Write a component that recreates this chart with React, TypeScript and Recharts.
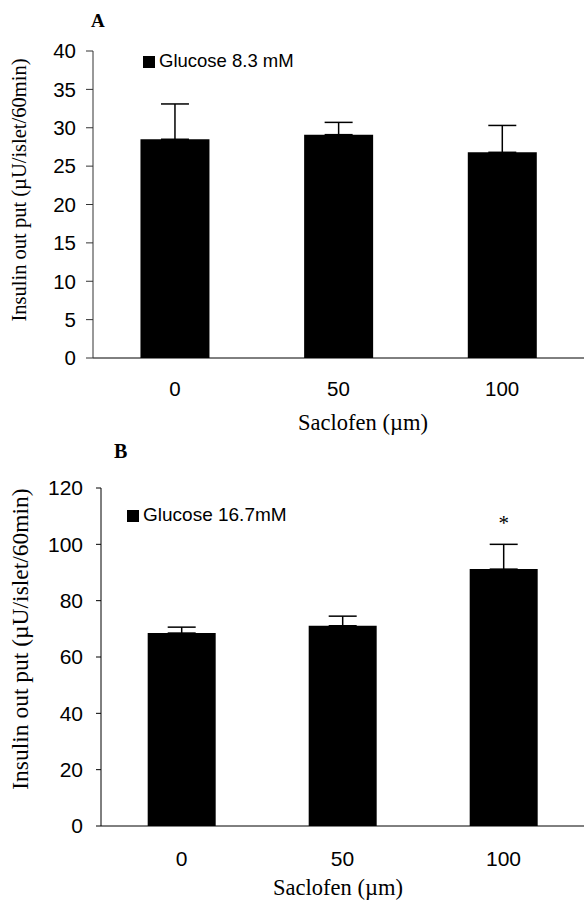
import { BarChart, Bar, XAxis, YAxis, ErrorBar, Legend, LabelList } from "recharts";

const doses = ["0", "50", "100"];

const meanA = [28.5, 29.1, 26.8];
const semA = [4.6, 1.6, 3.5];
const ticksA = [0, 5, 10, 15, 20, 25, 30, 35, 40];

const meanB = [68.5, 71.1, 91.2];
const semB = [2.1, 3.4, 8.8];
const sigB = ["", "", "*"];
const ticksB = [0, 20, 40, 60, 80, 100, 120];

const SANS = "'Liberation Sans', Arial, sans-serif";
const SERIF = "'Liberation Serif', 'Times New Roman', serif";

const dataA = doses.map((dose, i) => ({ dose, mean: meanA[i], err: [0, semA[i]] }));
const dataB = doses.map((dose, i) => ({ dose, mean: meanB[i], err: [0, semB[i]], sig: sigB[i] }));

// axis titles are placed by hand, recharts only hands us the viewBox
function YTitle({ cx, cy, size }: { cx: number; cy: number; size: number }) {
  return (
    <text
      x={cx}
      y={cy}
      transform={`rotate(-90 ${cx} ${cy})`}
      textAnchor="middle"
      fontFamily={SERIF}
      fontSize={size}
      fill="#000"
    >
      Insulin out put (µU/islet/60min)
    </text>
  );
}

function XTitle({ cx, baseY, size }: { cx: number; baseY: number; size: number }) {
  return (
    <text x={cx} y={baseY} textAnchor="middle" fontFamily={SERIF} fontSize={size} fill="#000">
      Saclofen (µm)
    </text>
  );
}

const panelLetter = (top: number, left: number, size: number): React.CSSProperties => ({
  position: "absolute",
  top,
  left,
  fontFamily: SERIF,
  fontWeight: "bold",
  fontSize: size,
  lineHeight: 1,
});

export default function App() {
  return (
    <div style={{ position: "absolute", top: 0, left: 0, width: 584, height: 901, background: "#fff" }}>
      <div style={panelLetter(11, 91, 19)}>A</div>
      <div style={{ position: "absolute", top: 0, left: 0 }}>
        <BarChart width={584} height={440} data={dataA} margin={{ top: 51, right: 0, bottom: 0, left: 0 }} barCategoryGap="29%">
          <XAxis
            dataKey="dose"
            height={82}
            tickSize={0}
            tickLine={false}
            tickMargin={23}
            axisLine={{ stroke: "#000" }}
            tick={{ fill: "#000", fontSize: 20.5, fontFamily: SANS }}
            label={<XTitle cx={363} baseY={430} size={22.5} />}
          />
          <YAxis
            type="number"
            domain={[0, 40]}
            ticks={ticksA}
            interval={0}
            width={93}
            tickSize={7}
            tickMargin={10}
            axisLine={{ stroke: "#333" }}
            tickLine={{ stroke: "#333" }}
            tick={{ fill: "#000", fontSize: 20.5, fontFamily: SANS }}
            label={<YTitle cx={26} cy={190} size={20.5} />}
          />
          <Legend
            layout="vertical"
            align="center"
            verticalAlign="middle"
            iconType="square"
            iconSize={12}
            wrapperStyle={{ top: 50, left: 143, width: "auto", fontFamily: SANS, fontSize: 18.5, color: "#000" }}
          />
          <Bar dataKey="mean" name="Glucose 8.3 mM" fill="#000" isAnimationActive={false}>
            <ErrorBar dataKey="err" direction="y" width={14} stroke="#000" strokeWidth={1.5} isAnimationActive={false} />
          </Bar>
        </BarChart>
      </div>

      <div style={panelLetter(441, 114, 20)}>B</div>
      <div style={{ position: "absolute", top: 440, left: 0 }}>
        <BarChart width={584} height={461} data={dataB} margin={{ top: 48, right: 0, bottom: 0, left: 0 }} barCategoryGap="29%">
          <XAxis
            dataKey="dose"
            height={75}
            tickSize={0}
            tickLine={false}
            tickMargin={25}
            axisLine={{ stroke: "#000" }}
            tick={{ fill: "#000", fontSize: 21, fontFamily: SANS }}
            label={<XTitle cx={338} baseY={455} size={22.5} />}
          />
          <YAxis
            type="number"
            domain={[0, 120]}
            ticks={ticksB}
            interval={0}
            width={101}
            tickSize={5}
            tickMargin={13}
            axisLine={{ stroke: "#000" }}
            tickLine={{ stroke: "#000" }}
            tick={{ fill: "#000", fontSize: 21, fontFamily: SANS }}
            label={<YTitle cx={28} cy={199} size={23.5} />}
          />
          <Legend
            layout="vertical"
            align="center"
            verticalAlign="middle"
            iconType="square"
            iconSize={12}
            wrapperStyle={{ top: 64, left: 127, width: "auto", fontFamily: SANS, fontSize: 19, color: "#000" }}
          />
          <Bar dataKey="mean" name="Glucose 16.7mM" fill="#000" isAnimationActive={false}>
            <ErrorBar dataKey="err" direction="y" width={14} stroke="#000" strokeWidth={1.5} isAnimationActive={false} />
            <LabelList dataKey="sig" position="top" offset={39} fill="#000" fontFamily={SERIF} fontSize={21} />
          </Bar>
        </BarChart>
      </div>
    </div>
  );
}
